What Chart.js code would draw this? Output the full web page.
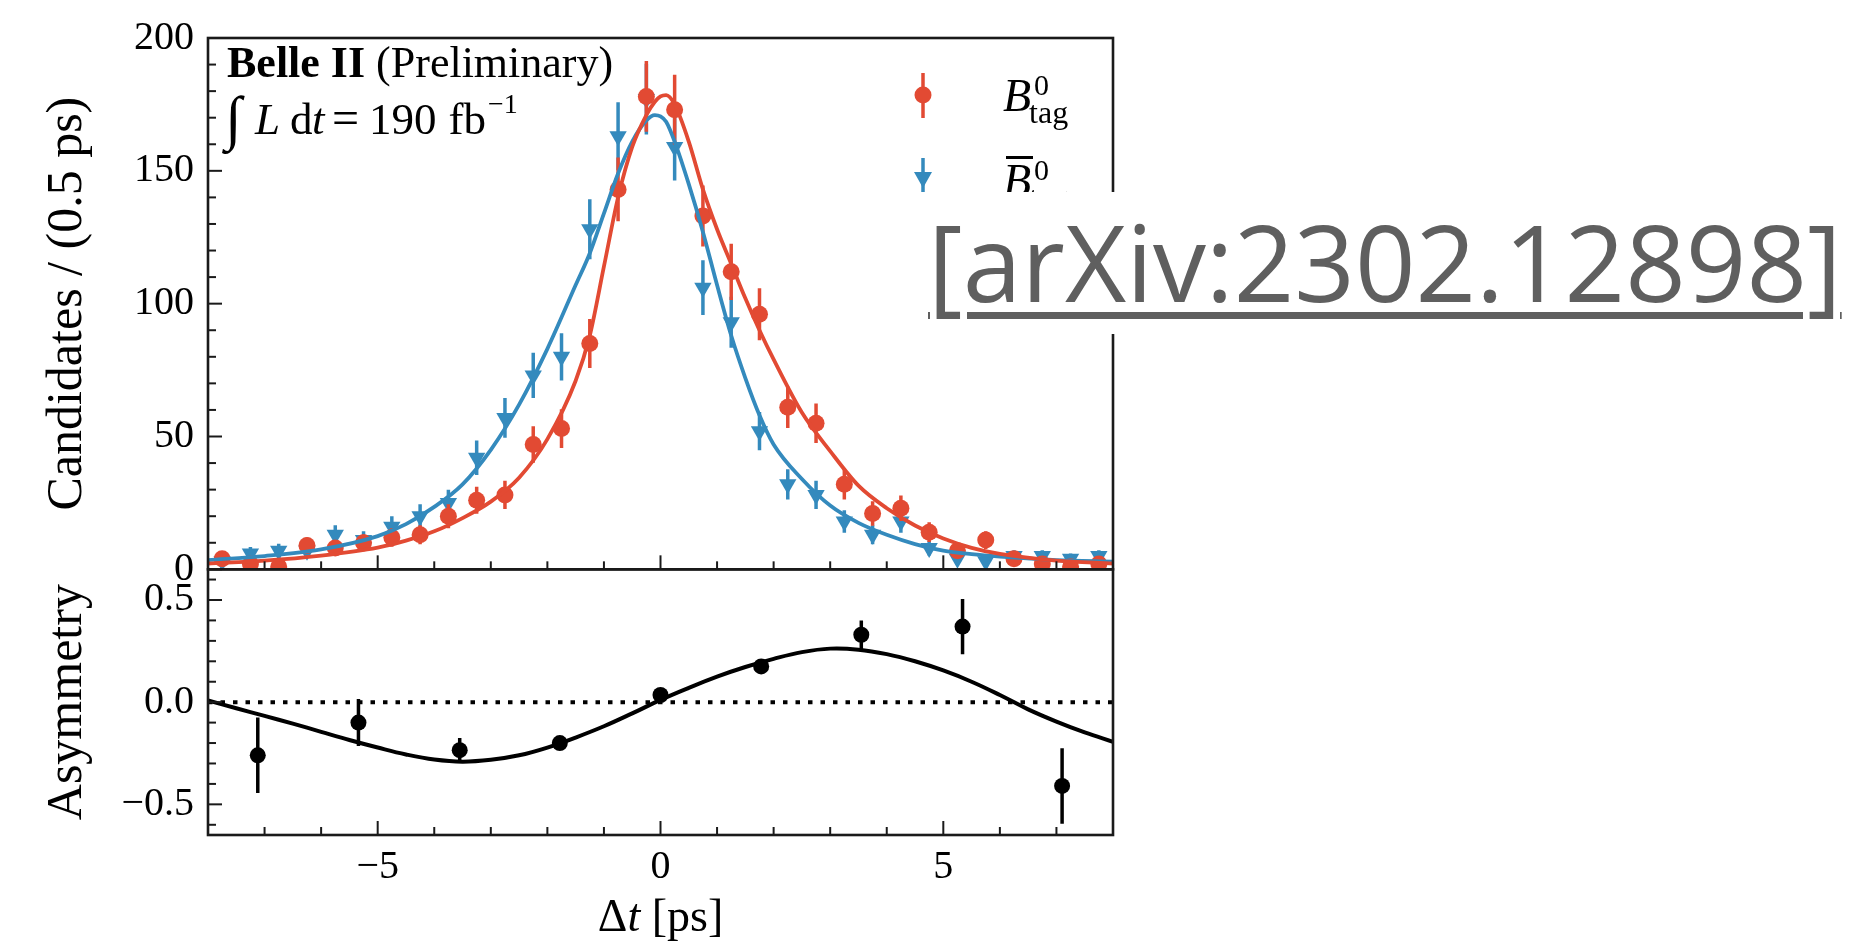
<!DOCTYPE html>
<html>
<head>
<meta charset="utf-8">
<script src="https://cdn.jsdelivr.net/npm/chart.js@4.4.0/dist/chart.umd.min.js"></script>
<style>
  html, body { margin: 0; padding: 0; background: #fff; }
  #wrap { position: relative; width: 1865px; height: 942px; overflow: hidden; }
  #chart { position: absolute; left: 0; top: 0; }
  #arxiv { position: absolute; left: 905px; top: 192px; width: 960px; height: 142px; background: #fff; }
  #arxiv span {
    position: absolute; left: 23px; top: 16px;
    font-family: "Open Sans", sans-serif; font-size: 106px; line-height: 106px;
    color: #5f5f5f; white-space: nowrap;
    text-decoration: underline; text-decoration-thickness: 7px; text-underline-offset: 10px;
  }
</style>
</head>
<body>
<div id="wrap">
  <canvas id="chart" width="1865" height="942"></canvas>
  <div id="arxiv"><span>[arXiv:2302.12898]</span></div>
</div>
<script>
// bin centres of the 0.5 ps bins
const binCentres = [-7.75, -7.25, -6.75, -6.25, -5.75, -5.25, -4.75, -4.25, -3.75, -3.25, -2.75, -2.25, -1.75, -1.25, -0.75, -0.25,
                    0.25, 0.75, 1.25, 1.75, 2.25, 2.75, 3.25, 3.75, 4.25, 4.75, 5.25, 5.75, 6.25, 6.75, 7.25, 7.75];
const bTag = [4, 2, 1, 9, 8, 10, 12, 13, 20, 26, 28, 47, 53, 85, 143, 178,
              173, 133, 112, 96, 61, 55, 32, 21, 23, 14, 7, 11, 4, 2, 1, 2];
const bTagErr = [2.0, 1.4, 1.0, 3.0, 2.8, 3.2, 3.5, 3.6, 4.5, 5.1, 5.3, 6.9, 7.3, 9.2, 12.0, 13.3,
                 13.2, 11.5, 10.6, 9.8, 7.8, 7.4, 5.7, 4.6, 4.8, 3.7, 2.6, 3.3, 2.0, 1.4, 1.0, 1.4];
const bBarTag = [3, 6, 7, 7, 13, 11, 16, 20, 25, 42, 57, 73, 80, 128, 163, 177,
                 159, 106, 93, 52, 32, 28, 18, 13, 18, 8, 4, 3, 5, 5, 4, 5];
const bBarTagErr = [1.7, 2.4, 2.6, 2.6, 3.6, 3.3, 4.0, 4.5, 5.0, 6.5, 7.5, 8.5, 8.9, 11.3, 12.8, 13.3,
                    12.6, 10.3, 9.6, 7.2, 5.7, 5.3, 4.2, 3.6, 4.2, 2.8, 2.0, 1.7, 2.2, 2.2, 2.0, 2.2];

// fit curves
const fitT = [-8, -7, -6, -5, -4.5, -4, -3.5, -3, -2.5, -2, -1.5, -1.25, -1, -0.75, -0.5, -0.25, -0.1, 0, 0.1, 0.25,
              0.5, 0.75, 1, 1.25, 1.5, 1.75, 2, 2.5, 3, 3.5, 4, 4.5, 5, 5.5, 6, 7, 8];
const bTagFit = [2.2, 3.3, 5.2, 8.2, 10.8, 14.3, 19.3, 25.5, 34.5, 49, 71, 88, 114, 140, 159, 171, 176, 178, 178.5, 175,
                 161, 143, 128, 115, 102, 90, 79, 59, 44.5, 31.5, 23, 16.5, 11.6, 8.1, 5.8, 3.3, 2.2];
const bBarTagFit = [3.5, 5, 7.5, 12.5, 17, 23.5, 32, 45, 62, 83, 107, 119, 134, 149, 161, 169, 171, 170.5, 168.5, 161,
                    145, 127, 107, 88, 72, 58, 47, 34, 24, 17.5, 13, 9.5, 7, 5.7, 4.8, 3.5, 2.9];

// asymmetry panel
const asymX = [-7.12, -5.34, -3.55, -1.78, 0.0, 1.78, 3.55, 5.34, 7.1];
const asymY = [-0.26, -0.10, -0.235, -0.20, 0.035, 0.175, 0.33, 0.37, -0.41];
const asymErr = [0.185, 0.115, 0.06, 0.03, 0.03, 0.03, 0.07, 0.135, 0.185];
const asymFitT = [-8, -7.5, -7, -6.5, -6, -5.5, -5, -4.5, -4, -3.5, -3, -2.5, -2, -1.5, -1, -0.5, 0,
                  0.5, 1, 1.5, 2, 2.5, 3, 3.5, 4, 4.5, 5, 5.5, 6, 6.5, 7, 7.5, 8];
const asymFit = [0.008, -0.03, -0.067, -0.105, -0.145, -0.185, -0.222, -0.256, -0.281, -0.291, -0.282, -0.26, -0.222,
                 -0.173, -0.118, -0.055, 0.011, 0.07, 0.125, 0.172, 0.212, 0.245, 0.262, 0.257, 0.235, 0.2, 0.155,
                 0.1, 0.035, -0.035, -0.095, -0.148, -0.194];

const xRange = [-8, 8];
const xTicks = [-5, 0, 5];
const countTicks = [0, 50, 100, 150, 200];
const asymTicks = [-0.5, 0, 0.5];

const serif = '"Liberation Serif", "Times New Roman", serif';
const RED = '#E24A33', BLUE = '#348ABD', INK = '#1a1a1a';

const pts = (xs, ys) => xs.map((x, i) => ({x: x, y: ys[i]}));
const minus = s => String(s).replace('-', '\u2212');

function txt(ctx, s, x, y, font) {
  ctx.font = font;
  ctx.fillText(s, x, y);
  return x + ctx.measureText(s).width;
}

// clip each dataset to its own panel, draw error bars under the markers
const panelPlugin = {
  id: 'panels',
  beforeDatasetDraw(chart, args) {
    const {ctx, chartArea} = chart;
    const ys = args.meta.yScale, xs = args.meta.xScale;
    ctx.save();
    ctx.beginPath();
    ctx.rect(chartArea.left, ys.top, chartArea.right - chartArea.left, ys.bottom - ys.top);
    ctx.clip();
    const ds = chart.data.datasets[args.index];
    if (ds.errs) {
      ctx.strokeStyle = ds.pointBackgroundColor;
      ctx.lineWidth = 3.5;
      ds.data.forEach((p, i) => {
        const px = xs.getPixelForValue(p.x);
        ctx.beginPath();
        ctx.moveTo(px, ys.getPixelForValue(p.y - ds.errs[i]));
        ctx.lineTo(px, ys.getPixelForValue(p.y + ds.errs[i]));
        ctx.stroke();
      });
    }
  },
  afterDatasetDraw(chart) {
    chart.ctx.restore();
  },
  afterDraw(chart) {
    const {ctx, chartArea: a, scales} = chart;
    const x = scales.x;
    ctx.save();
    ctx.strokeStyle = INK;

    [[scales.yCount, 10], [scales.yAsym, 0.1]].forEach(([ys, step]) => {
      ctx.lineWidth = 2;
      // y ticks, pointing inwards
      for (let k = Math.ceil(ys.min / step - 1e-9); k * step <= ys.max + 1e-9; k++) {
        const v = k * step;
        const major = ys.ticks.some(t => Math.abs(t.value - v) < 1e-9);
        const py = ys.getPixelForValue(v);
        ctx.beginPath();
        ctx.moveTo(a.left, py);
        ctx.lineTo(a.left + (major ? 14 : 8), py);
        ctx.stroke();
      }
      // x ticks along the bottom of the panel
      for (let k = xRange[0]; k <= xRange[1]; k++) {
        const px = x.getPixelForValue(k);
        const major = xTicks.includes(k);
        ctx.beginPath();
        ctx.moveTo(px, ys.bottom);
        ctx.lineTo(px, ys.bottom - (major ? 14 : 8));
        ctx.stroke();
      }
      ctx.lineWidth = 2.6;
      ctx.strokeRect(a.left, ys.top, a.right - a.left, ys.bottom - ys.top);
    });

    // x axis title with italic t
    ctx.fillStyle = '#000';
    ctx.textBaseline = 'alphabetic';
    ctx.font = `46px ${serif}`;
    const w1 = ctx.measureText('\u0394').width;
    ctx.font = `italic 46px ${serif}`;
    const w2 = ctx.measureText('t').width;
    ctx.font = `46px ${serif}`;
    const w3 = ctx.measureText(' [ps]').width;
    let tx = (a.left + a.right) / 2 - (w1 + w2 + w3) / 2;
    tx = txt(ctx, '\u0394', tx, 931, `46px ${serif}`);
    tx = txt(ctx, 't', tx, 931, `italic 46px ${serif}`);
    txt(ctx, ' [ps]', tx, 931, `46px ${serif}`);

    // experiment label
    let bx = txt(ctx, 'Belle II', 227, 77, `bold 44px ${serif}`);
    txt(ctx, ' (Preliminary)', bx, 77, `44px ${serif}`);
    txt(ctx, '\u222B', 225, 138, `italic 60px ${serif}`);
    txt(ctx, 'L', 255, 134, `italic 45px ${serif}`);
    txt(ctx, 'd', 290, 134, `45px ${serif}`);
    txt(ctx, 't', 312, 134, `italic 45px ${serif}`);
    txt(ctx, '=', 332, 134, `48px ${serif}`);
    bx = txt(ctx, '190', 369, 134, `45px ${serif}`);
    bx = txt(ctx, 'fb', bx + 12, 134, `45px ${serif}`);
    txt(ctx, '\u22121', bx + 2, 113, `28px ${serif}`);

    // legend: marker with error bar + label
    const lx = 923;
    ctx.lineWidth = 3.5;
    ctx.strokeStyle = RED;
    ctx.beginPath(); ctx.moveTo(lx, 73); ctx.lineTo(lx, 118); ctx.stroke();
    ctx.fillStyle = RED;
    ctx.beginPath(); ctx.arc(lx, 95, 8.5, 0, Math.PI * 2); ctx.fill();
    ctx.strokeStyle = BLUE;
    ctx.beginPath(); ctx.moveTo(lx, 158); ctx.lineTo(lx, 200); ctx.stroke();
    ctx.fillStyle = BLUE;
    ctx.beginPath(); ctx.moveTo(lx - 9, 172); ctx.lineTo(lx + 9, 172); ctx.lineTo(lx, 188); ctx.closePath(); ctx.fill();

    ctx.fillStyle = '#000';
    [[111, false], [196, true]].forEach(([base, bar]) => {
      const end = txt(ctx, 'B', 1003, base, `italic 46px ${serif}`);
      txt(ctx, '0', end + 3, base - 16, `30px ${serif}`);
      txt(ctx, 'tag', end - 2, base + 12, `32px ${serif}`);
      if (bar) ctx.fillRect(1006, base - 40, 27, 3);
    });
    ctx.restore();
  }
};

const axisFont = {family: serif, size: 40};
const titleFont = {family: serif, size: 50};

new Chart(document.getElementById('chart'), {
  type: 'scatter',
  data: {
    datasets: [
      {label: 'B0 tag fit', data: pts(fitT, bTagFit), yAxisID: 'yCount', showLine: true, pointRadius: 0,
       borderColor: RED, borderWidth: 3.8, cubicInterpolationMode: 'monotone'},
      {label: 'anti-B0 tag fit', data: pts(fitT, bBarTagFit), yAxisID: 'yCount', showLine: true, pointRadius: 0,
       borderColor: BLUE, borderWidth: 3.8, cubicInterpolationMode: 'monotone'},
      {label: 'B0 tag', data: pts(binCentres, bTag), errs: bTagErr, yAxisID: 'yCount',
       pointStyle: 'circle', pointRadius: 8.5, pointBackgroundColor: RED, pointBorderWidth: 0},
      {label: 'anti-B0 tag', data: pts(binCentres, bBarTag), errs: bBarTagErr, yAxisID: 'yCount',
       pointStyle: 'triangle', pointRotation: 180, pointRadius: 10, pointBackgroundColor: BLUE, pointBorderWidth: 0},
      {label: 'zero', data: pts(xRange, [0, 0]), yAxisID: 'yAsym', showLine: true, pointRadius: 0,
       borderColor: '#000', borderWidth: 4, borderDash: [4.5, 8]},
      {label: 'asymmetry fit', data: pts(asymFitT, asymFit), yAxisID: 'yAsym', showLine: true, pointRadius: 0,
       borderColor: '#000', borderWidth: 4, tension: 0.4},
      {label: 'asymmetry', data: pts(asymX, asymY), errs: asymErr, yAxisID: 'yAsym',
       pointStyle: 'circle', pointRadius: 8, pointBackgroundColor: '#000', pointBorderWidth: 0}
    ]
  },
  options: {
    responsive: false,
    animation: false,
    devicePixelRatio: 1,
    layout: {padding: {top: 33, right: 752, bottom: 0, left: 0}},
    plugins: {legend: {display: false}, tooltip: {enabled: false}},
    scales: {
      x: {
        type: 'linear', position: 'bottom', min: xRange[0], max: xRange[1],
        grid: {display: false, drawTicks: false}, border: {display: false},
        afterBuildTicks: s => { s.ticks = xTicks.map(v => ({value: v})); },
        afterFit: s => { s.height = 107; },
        ticks: {font: axisFont, color: '#000', padding: 8, maxRotation: 0, callback: v => minus(v)}
      },
      yAsym: {
        type: 'linear', position: 'left', stack: 'panels', stackWeight: 1, min: -0.65, max: 0.65,
        grid: {display: false, drawTicks: false}, border: {display: false},
        afterBuildTicks: s => { s.ticks = asymTicks.map(v => ({value: v})); },
        afterFit: s => { s.width = 208; },
        ticks: {font: axisFont, color: '#000', padding: 14, callback: v => minus(v.toFixed(1))},
        title: {display: true, text: 'Asymmetry', font: titleFont, color: '#000', padding: {top: 38, bottom: 0}}
      },
      yCount: {
        type: 'linear', position: 'left', stack: 'panels', stackWeight: 2, min: 0, max: 200,
        grid: {display: false, drawTicks: false}, border: {display: false},
        afterBuildTicks: s => { s.ticks = countTicks.map(v => ({value: v})); },
        afterFit: s => { s.width = 208; },
        ticks: {font: axisFont, color: '#000', padding: 14, callback: v => String(v)},
        title: {display: true, text: 'Candidates / (0.5 ps)', font: titleFont, color: '#000', padding: {top: 38, bottom: 0}}
      }
    }
  },
  plugins: [panelPlugin]
});
</script>
</body>
</html>
